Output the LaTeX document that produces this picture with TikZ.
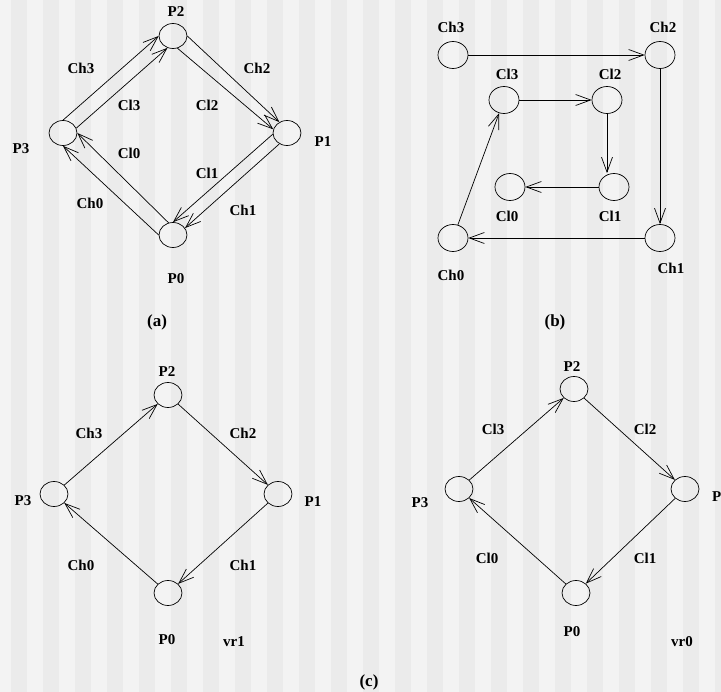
\documentclass[tikz,border=0pt]{standalone}
\usepackage{fontspec}
\setmainfont{Liberation Serif}
\usetikzlibrary{arrows.meta,shapes.geometric}
\definecolor{StripeLight}{HTML}{F3F3F3}
\definecolor{StripeDark}{HTML}{EBEBEB}
\tikzset{
  proc/.style={draw=black, ellipse, line width=0.7pt, minimum width=28pt, minimum height=25pt, inner sep=0pt},
  bigproc/.style={proc, minimum width=30pt, minimum height=27pt},
  lbl/.style={font=\bfseries\fontsize{15}{17}\selectfont, inner sep=0pt},
  caplbl/.style={font=\bfseries\fontsize{17}{19}\selectfont, inner sep=0pt},
  chan/.style={-{Straight Barb[length=15pt,width=11pt]}, line width=0.7pt}
}
\begin{document}
\begin{tikzpicture}[x=1pt, y=-1pt]
\useasboundingbox (0,0) rectangle (721,692);
\fill[StripeLight] (0,0) rectangle (721,692);
\foreach \k in {0,...,22}
  \fill[StripeDark] (11+32*\k,0) rectangle (27+32*\k,692);

\node[proc] (p2a) at (173,36) {};
\node[proc] (p1a) at (287,133) {};
\node[proc] (p3a) at (63,133) {};
\node[proc] (p0a) at (173,235) {};
\node[lbl] (lp2a) at (176,12) {P2};
\node[lbl] (lp1a) at (323,142) {P1};
\node[lbl] (lp3a) at (21,149) {P3};
\node[lbl] (lp0a) at (176,279) {P0};
\node[lbl] (lch3a) at (81,68) {Ch3};
\node[lbl] (lch2a) at (257,68) {Ch2};
\node[lbl] (lcl3a) at (129,105) {Cl3};
\node[lbl] (lcl2a) at (207,105) {Cl2};
\node[lbl] (lcl0a) at (129,153) {Cl0};
\node[lbl] (lcl1a) at (207,173) {Cl1};
\node[lbl] (lch0a) at (90,203) {Ch0};
\node[lbl] (lch1a) at (243,210) {Ch1};
\node[caplbl] (capa) at (157,322) {(a)};
\draw[chan] (p3a.90) -- (p2a.180);
\draw[chan] (p3a.20) -- (p2a.245);
\draw[chan] (p2a.0) -- (p1a.125);
\draw[chan] (p2a.290) -- (p1a.165);
\draw[chan] (p1a.185) -- (p0a.90);
\draw[chan] (p1a.235) -- (p0a.30);
\draw[chan] (p0a.180) -- (p3a.270);
\draw[chan] (p0a.110) -- (p3a.0);

\node[bigproc] (ch3b) at (453,55) {};
\node[bigproc] (ch2b) at (660,55) {};
\node[bigproc] (cl3b) at (504,100) {};
\node[bigproc] (cl2b) at (607,100) {};
\node[bigproc] (cl0b) at (510,187) {};
\node[bigproc] (cl1b) at (614,187) {};
\node[bigproc] (ch0b) at (453,238) {};
\node[bigproc] (ch1b) at (660,238) {};
\node[lbl] (lch3b) at (451,27) {Ch3};
\node[lbl] (lch2b) at (663,27) {Ch2};
\node[lbl] (lcl3b) at (507,74) {Cl3};
\node[lbl] (lcl2b) at (610,74) {Cl2};
\node[lbl] (lcl0b) at (507,216) {Cl0};
\node[lbl] (lcl1b) at (610,216) {Cl1};
\node[lbl] (lch0b) at (451,275) {Ch0};
\node[lbl] (lch1b) at (671,268) {Ch1};
\node[caplbl] (capb) at (555,322) {(b)};
\draw[chan] (ch3b) -- (ch2b);
\draw[chan] (ch2b) -- (ch1b);
\draw[chan] (ch1b) -- (ch0b);
\draw[chan] (ch0b) -- (cl3b);
\draw[chan] (cl3b) -- (cl2b);
\draw[chan] (cl2b.south) -- (cl2b.south |- cl1b.north);
\draw[chan] (cl1b) -- (cl0b);

\node[proc] (p2c) at (168,395) {};
\node[proc] (p1c) at (278,494) {};
\node[proc] (p3c) at (54,494) {};
\node[proc] (p0c) at (168,593) {};
\node[lbl] (lp2c) at (167,372) {P2};
\node[lbl] (lp1c) at (313,502) {P1};
\node[lbl] (lp3c) at (23,501) {P3};
\node[lbl] (lp0c) at (167,640) {P0};
\node[lbl] (lvr1) at (234,642) {vr1};
\node[lbl] (lch3c) at (89,433) {Ch3};
\node[lbl] (lch2c) at (243,433) {Ch2};
\node[lbl] (lch0c) at (81,565) {Ch0};
\node[lbl] (lch1c) at (243,565) {Ch1};
\draw[chan] (p3c) -- (p2c);
\draw[chan] (p2c) -- (p1c);
\draw[chan] (p1c) -- (p0c);
\draw[chan] (p0c) -- (p3c);

\node[proc] (p2d) at (574,389) {};
\node[proc] (p1d) at (685,489) {};
\node[proc] (p3d) at (459,489) {};
\node[proc] (p0d) at (576,593) {};
\node[lbl] (lp2d) at (572,367) {P2};
\node[lbl, anchor=west] (lp1d) at (712,497) {P1};
\node[lbl] (lp3d) at (420,503) {P3};
\node[lbl] (lp0d) at (572,632) {P0};
\node[lbl] (lvr0) at (682,642) {vr0};
\node[lbl] (lcl3d) at (493,429) {Cl3};
\node[lbl] (lcl2d) at (645,429) {Cl2};
\node[lbl] (lcl0d) at (487,558) {Cl0};
\node[lbl] (lcl1d) at (645,558) {Cl1};
\draw[chan] (p3d) -- (p2d);
\draw[chan] (p2d) -- (p1d);
\draw[chan] (p1d) -- (p0d);
\draw[chan] (p0d) -- (p3d);
\node[caplbl] (capc) at (369,682) {(c)};
\end{tikzpicture}
\end{document}
